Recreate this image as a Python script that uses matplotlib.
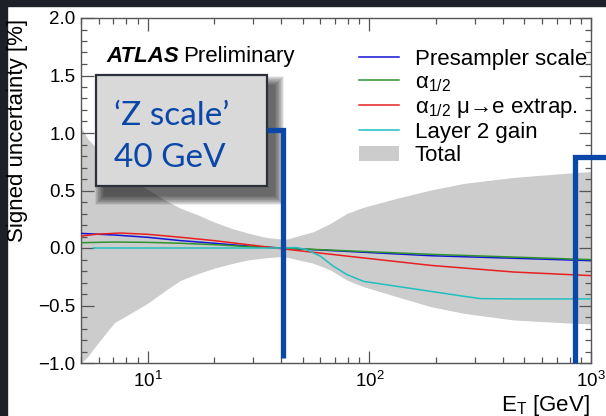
import numpy as np
import matplotlib
matplotlib.use("Agg")
import matplotlib.pyplot as plt
from matplotlib.patches import Rectangle, Patch
from matplotlib.lines import Line2D
from matplotlib.ticker import LogLocator, NullFormatter, MultipleLocator

plt.rcParams['font.family'] = ['Liberation Sans', 'DejaVu Sans']
plt.rcParams['mathtext.fontset'] = 'custom'
plt.rcParams['mathtext.rm'] = 'Liberation Sans'
plt.rcParams['mathtext.it'] = 'Liberation Sans:italic'
plt.rcParams['mathtext.bf'] = 'Liberation Sans:bold'

# Total uncertainty band
tot_et = [5, 5.36, 6, 7.07, 8, 10, 12, 14.1, 17, 20, 24, 28.3, 34, 40, 42.5,
          56, 66.7, 79, 94, 133, 189, 267, 449, 837, 1000]
tot_up = [1.05, 0.95, 0.85, 0.72, 0.63, 0.51, 0.415, 0.345, 0.285, 0.225, 0.17, 0.13,
          0.093, 0.078, 0.078, 0.142, 0.214, 0.30, 0.354, 0.432, 0.504, 0.562, 0.614,
          0.655, 0.665]
tot_dn = [-1.0, -0.945, -0.82, -0.65, -0.59, -0.48, -0.37, -0.28, -0.22, -0.175, -0.135,
          -0.104, -0.085, -0.075, -0.081, -0.133, -0.191, -0.278, -0.336, -0.423, -0.51,
          -0.568, -0.626, -0.655, -0.66]

# individual components
ps_et = [5, 7.07, 10, 14.1, 20, 28.3, 40, 189, 1000]
ps_val = [0.127, 0.113, 0.093, 0.064, 0.041, 0.017, 0.0, -0.067, -0.11]

a12_et = [5, 7.07, 10, 14.1, 20, 28.3, 40, 189, 1000]
a12_val = [0.046, 0.052, 0.049, 0.041, 0.029, 0.012, 0.0, -0.055, -0.101]

amu_et = [5, 5.9, 7.5, 10, 14.1, 20, 28.3, 40, 79, 189, 449, 1000]
amu_val = [0.104, 0.12, 0.13, 0.119, 0.093, 0.064, 0.029, -0.006, -0.07, -0.151, -0.209, -0.24]

l2_et = [5.7, 40, 47, 52, 60, 69, 79, 94, 133, 189, 267, 317, 449, 1000]
l2_val = [0.0, 0.0, 0.004, -0.014, -0.07, -0.16, -0.23, -0.29, -0.333, -0.377, -0.42,
          -0.44, -0.443, -0.443]

labels = ['Presampler scale', r'α$_{1/2}$', r'α$_{1/2}$ μ→e extrap.', 'Layer 2 gain', 'Total']
colors = ['#1414d8', '#2f932f', '#e82020', '#22bfbf']

# slide overlay: Z-scale marks
MARK_X = [40.8, 850]
BLUE = '#0a47a8'

W, H = 606, 416
fig = plt.figure(figsize=(W / 100, H / 100), dpi=100)
ax = fig.add_axes([81 / W, 1 - 363 / H, 510 / W, 345 / H])

ax.fill_between(tot_et, tot_dn, tot_up, color='#cccccc', lw=0, zorder=1)
ax.plot(ps_et, ps_val, color=colors[0], lw=1.1, zorder=3)
ax.plot(a12_et, a12_val, color=colors[1], lw=1.1, zorder=3)
ax.plot(amu_et, amu_val, color=colors[2], lw=1.1, zorder=3)
ax.plot(l2_et, l2_val, color=colors[3], lw=1.1, zorder=3)

ax.set_xscale('log')
ax.set_xlim(5, 1000)
ax.set_ylim(-1, 2)
ax.set_yticks(np.arange(-1, 2.01, 0.5))
ax.yaxis.set_minor_locator(MultipleLocator(0.1))
ax.xaxis.set_minor_locator(LogLocator(base=10, subs=np.arange(2, 10)))
ax.xaxis.set_minor_formatter(NullFormatter())
ax.tick_params(which='both', direction='in', top=True, right=True, colors='#555555',
               labelcolor='black', labelsize=13.5, width=0.9)
ax.tick_params(which='major', length=9)
ax.tick_params(which='minor', length=4.5)
ax.tick_params(axis='x', pad=6)
ax.tick_params(axis='y', pad=4)
for s in ax.spines.values():
    s.set_color('#555555')
    s.set_linewidth(1.0)

handles = [Line2D([], [], color=c, lw=1.1) for c in colors[:4]]
handles.append(Patch(facecolor='#cccccc', edgecolor='none'))
ax.legend(handles, labels, loc='upper left', bbox_to_anchor=(359 / W, 1 - 49 / H),
          bbox_transform=fig.transFigure, frameon=False, fontsize=16, borderpad=0,
          borderaxespad=0, handlelength=1.8, handletextpad=0.7, labelspacing=0.1)

atlas = fig.text(106 / W, 1 - 62 / H, 'ATLAS', fontsize=16, fontweight='bold',
                 fontstyle='italic', va='baseline')
fig.canvas.draw()
ext = atlas.get_window_extent()
fig.text((ext.x1 + 4) / W, 1 - 62 / H, 'Preliminary', fontsize=16, va='baseline')

fig.text(18 / W, 1 - 19 / H, 'Signed uncertainty [%]', rotation=90, ha='center',
         va='top', fontsize=16)
fig.text(590 / W, 1 - 405 / H, r'E$_\mathregular{T}$ [GeV]', ha='right', va='center',
         fontsize=16)

# dark slide frame
fig.patches.append(Rectangle((0, 1 - 6 / H), 1, 6 / H, transform=fig.transFigure,
                             color='#1d2028', zorder=0))
fig.patches.append(Rectangle((0, 0), 7 / W, 1, transform=fig.transFigure,
                             color='#1d2028', zorder=0))

# callout box with soft shadow (stacked translucent rects fake a blur)
bx, by, bw, bh = 96, 75, 171, 111
sx, sy = 8, 10
for g in range(13, -1, -1):
    fig.patches.append(Rectangle(((bx + sx - g * 0.7) / W, 1 - (by + bh + sy + g * 0.7) / H),
                                 (bw + g * 1.4) / W, (bh + g * 1.4) / H,
                                 transform=fig.transFigure, color='#151515',
                                 alpha=0.065, lw=0, zorder=1))
fig.patches.append(Rectangle((bx / W, 1 - (by + bh) / H), bw / W, bh / H,
                             transform=fig.transFigure, facecolor='#d9d9d9',
                             edgecolor='#2c303a', lw=1.6, zorder=2))
fig.text(114 / W, 1 - 125 / H, '‘Z scale’', color=BLUE, fontsize=24,
         family=['Lato', 'DejaVu Sans'], va='baseline', zorder=3)
fig.text(114 / W, 1 - 167 / H, '40 GeV', color=BLUE, fontsize=24,
         family=['Lato', 'DejaVu Sans'], va='baseline', zorder=3)

# blue marker lines, drawn above the callout shadow
fig.add_artist(Line2D([34.6, MARK_X[0], MARK_X[0]], [1.026, 1.026, -0.957],
                      transform=ax.transData, color=BLUE, lw=3.8,
                      solid_joinstyle='miter', solid_capstyle='butt', zorder=4))
fig.add_artist(Line2D([1200, MARK_X[1], MARK_X[1]], [0.79, 0.79, -1.0],
                      transform=ax.transData, color=BLUE, lw=3.8,
                      solid_joinstyle='miter', solid_capstyle='butt', zorder=4))

fig.savefig('out.png', dpi=100)
